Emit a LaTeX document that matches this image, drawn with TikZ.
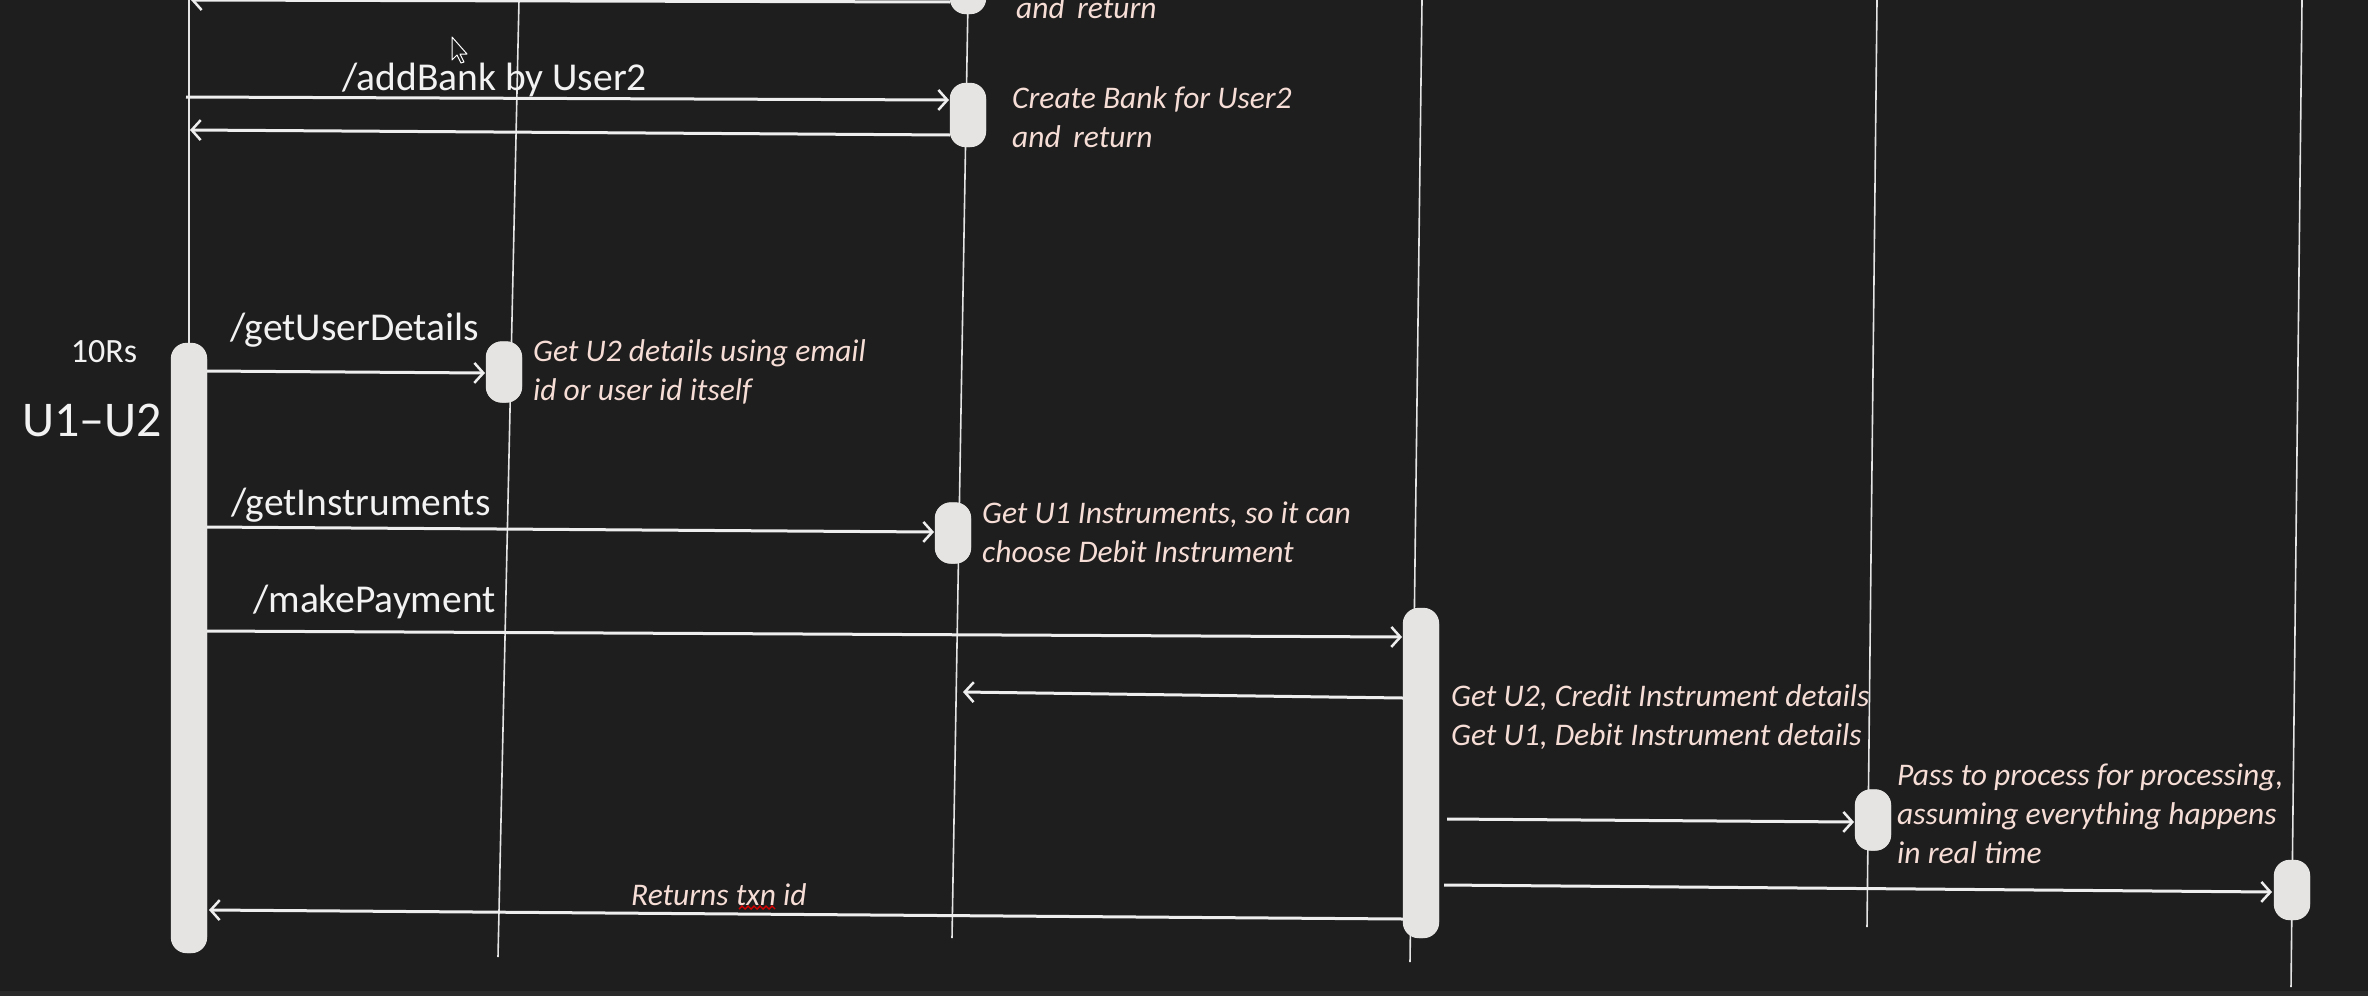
\documentclass[tikz,border=0pt]{standalone}
\usepackage{fontspec}
\setmainfont{Carlito}
\usetikzlibrary{arrows.meta}
\definecolor{bg}{HTML}{1E1E1E}
\definecolor{band}{HTML}{2A2A2A}
\definecolor{linec}{HTML}{E4E4E4}
\definecolor{arrc}{HTML}{EEEEEE}
\definecolor{barc}{HTML}{E6E4E2}
\definecolor{notec}{HTML}{F6DDD6}
\definecolor{labc}{HTML}{F2F2F2}
\tikzset{
  lifeline/.style={draw=linec, line width=1.6pt},
  actbar/.style={rectangle, fill=barc, draw=none, minimum width=36pt, inner sep=0pt, rounded corners=16pt},
  msg/.style={draw=arrc, line width=3pt, -{Straight Barb[length=9pt,width=20pt,line width=2.5pt]}},
  msglabel/.style={anchor=base west, inner sep=0pt, text=labc, font=\fontsize{39.5}{44}\selectfont},
  notetext/.style={anchor=base west, inner sep=0pt, text=notec, font=\fontsize{31.5}{39}\selectfont\itshape},
  hand/.style={inner sep=0pt, text=labc}
}
\begin{document}
\begin{tikzpicture}[x=1pt,y=-1pt]
\useasboundingbox (0,0) rectangle (2368,996);
\clip (0,0) rectangle (2368,996);
\fill[bg] (0,0) rectangle (2368,996);
\fill[band] (0,991) rectangle (2368,996);

% lifeline ends
\coordinate (l1t) at (189,0);
\coordinate (l2t) at (519,0);  \coordinate (l2b) at (498,957);
\coordinate (l3t) at (968,0);  \coordinate (l3b) at (952,938);
\coordinate (l4t) at (1422,0); \coordinate (l4b) at (1410,962);
\coordinate (l5t) at (1877,0); \coordinate (l5b) at (1867,927);
\coordinate (l6t) at (2302,0); \coordinate (l6b) at (2291,987);

% activation bars
\node[actbar, minimum height=610pt] (b1) at (189,648) {};
\node[actbar, minimum height=61pt] (b2) at (504,372) {};
\node[actbar, minimum height=80pt] (b3a) at (968,-26) {};
\node[actbar, minimum height=64pt] (b3b) at (968,115) {};
\node[actbar, minimum height=61pt] (b3c) at (953,533) {};
\node[actbar, minimum height=330pt] (b4) at (1421,773) {};
\node[actbar, minimum height=61pt] (b5) at (1873,820) {};
\node[actbar, minimum height=60pt] (b6) at (2292,890) {};

% lifelines
\draw[lifeline] (l1t) -- (b1.north);
\draw[lifeline] (l2t) -- (l2b);
\draw[lifeline] (l3t) -- (l3b);
\draw[lifeline] (l4t) -- (l4b);
\draw[lifeline] (l5t) -- (l5b);
\draw[lifeline] (l6t) -- (l6b);

% redraw bars above lifelines
\foreach \n in {b1,b2,b3a,b3b,b3c,b4,b5,b6}{
  \fill[barc, rounded corners=16pt] (\n.north west) rectangle (\n.south east);
}

% message end points
\coordinate (m0s) at (950,2);    \coordinate (m0e) at (191,0);
\coordinate (m1s) at (186,97);   \coordinate (m1e) at (949,100);
\coordinate (m2s) at (950,135);  \coordinate (m2e) at (190,130);
\coordinate (m3s) at (207,371);  \coordinate (m3e) at (485,373);
\coordinate (m4s) at (207,527);  \coordinate (m4e) at (934,532);
\coordinate (m5s) at (207,631);  \coordinate (m5e) at (1402,637);
\coordinate (m6s) at (1403,698); \coordinate (m6e) at (963,692);
\coordinate (m7s) at (1447,819); \coordinate (m7e) at (1854,822);
\coordinate (m8s) at (1444,885); \coordinate (m8e) at (2272,892);
\coordinate (m9s) at (1403,919); \coordinate (m9e) at (209,910);

\draw[msg] (m0s) -- (m0e);
\draw[msg] (m1s) -- (m1e);
\draw[msg] (m2s) -- (m2e);
\draw[msg] (m3s) -- (m3e);
\draw[msg] (m4s) -- (m4e);
\draw[msg] (m5s) -- (m5e);
\draw[msg] (m6s) -- (m6e);
\draw[msg] (m7s) -- (m7e);
\draw[msg] (m8s) -- (m8e);
\draw[msg] (m9s) -- (m9e);

% message labels
\node[msglabel] (t1) at (342,90) {/addBank by User2};
\node[msglabel] (t3) at (230,340) {/getUserDetails};
\node[msglabel] (t4) at (231,515) {/getInstruments};
\node[msglabel] (t5) at (253,612) {/makePayment};
\node[notetext] (t9) at (631,905) {Returns txn id};
\draw[red!85!black, line width=1.4pt]
  (739,909) -- (742,906) -- (745,909) -- (748,906) -- (751,909) -- (754,906) -- (757,909)
  -- (760,906) -- (763,909) -- (766,906) -- (769,909) -- (772,906) -- (775,909);

% notes
\node[notetext] (n0) at (1016,18) {and\, return};
\node[notetext] (n1) at (1012,108) {\begin{tabular}[t]{@{}l@{}}Create Bank for User2\\and\, return\end{tabular}};
\node[notetext] (n3) at (533,361) {\begin{tabular}[t]{@{}l@{}}Get U2 details using email\\id or user id itself\end{tabular}};
\node[notetext] (n4) at (982,523) {\begin{tabular}[t]{@{}l@{}}Get U1 Instruments, so it can\\choose Debit Instrument\end{tabular}};
\node[notetext] (n6) at (1451,706) {\begin{tabular}[t]{@{}l@{}}Get U2, Credit Instrument details\\Get U1, Debit Instrument details\end{tabular}};
\node[notetext] (n7) at (1897,785) {\begin{tabular}[t]{@{}l@{}}Pass to process for processing,\\assuming everything happens\\in real time\end{tabular}};

% handwritten annotations
\node[hand, font=\fontsize{34}{38}\selectfont] (h1) at (104,352) {10Rs};
\node[hand, font=\fontsize{50}{56}\selectfont] (h2) at (92,420) {U1–U2};

% mouse cursor
\draw[white, fill=bg, line width=1pt, line join=round]
  (452,37) -- (452,60) -- (457,55) -- (461,63) -- (464,62) -- (460,54) -- (467,54) -- cycle;
\end{tikzpicture}
\end{document}
